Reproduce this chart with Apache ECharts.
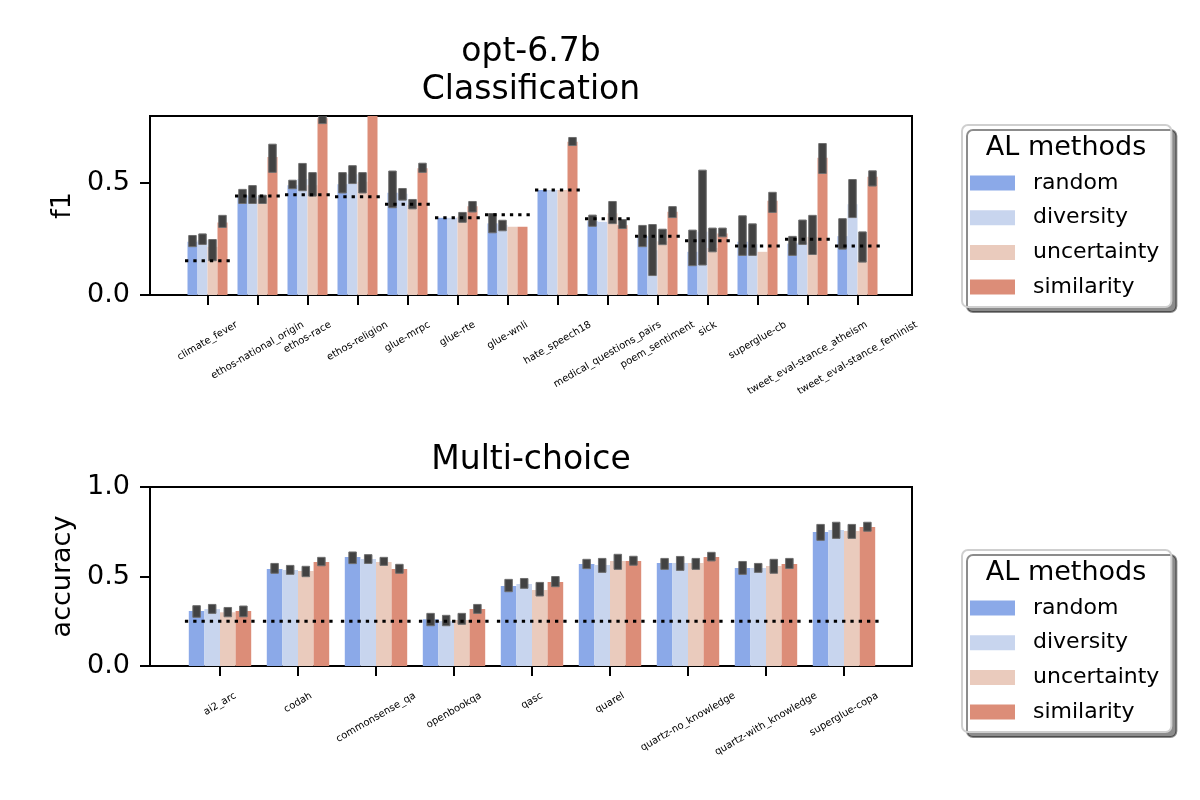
<!DOCTYPE html>
<html><head><meta charset="utf-8">
<script src="https://cdn.jsdelivr.net/npm/echarts@6/dist/echarts.min.js"></script>
<style>html,body{margin:0;padding:0;background:#fff}#main{width:1200px;height:800px}</style>
</head><body><div id="main"></div>
<script>
// ---------------- data ----------------
const methods = ['random', 'diversity', 'uncertainty', 'similarity'];

const clsCats = ['climate_fever','ethos-national_origin','ethos-race','ethos-religion','glue-mrpc','glue-rte','glue-wnli','hate_speech18','medical_questions_pairs','poem_sentiment','sick','superglue-cb','tweet_eval-stance_atheism','tweet_eval-stance_feminist'];
const clsRandom      = [0.238, 0.446, 0.491, 0.495, 0.457, 0.345, 0.320, 0.469, 0.330, 0.263, 0.193, 0.238, 0.230, 0.263];
const clsRandomLo    = [0.216, 0.409, 0.475, 0.456, 0.390, null,  0.278, null,  0.307, 0.216, 0.131, 0.177, 0.177, 0.205];
const clsRandomHi    = [0.266, 0.472, 0.513, 0.547, 0.554, null,  0.364, null,  0.357, 0.311, 0.290, 0.354, 0.262, 0.341];
const clsDiversity   = [0.245, 0.440, 0.518, 0.540, 0.453, 0.345, 0.312, 0.469, 0.327, 0.200, 0.283, 0.227, 0.235, 0.406];
const clsDiversityLo = [0.226, 0.409, 0.466, 0.498, 0.424, null,  0.287, null,  null,  0.087, 0.134, 0.177, 0.226, 0.346];
const clsDiversityHi = [0.273, 0.489, 0.588, 0.578, 0.476, null,  0.334, null,  null,  0.315, 0.558, 0.318, 0.335, 0.516];
const clsUncert      = [0.215, 0.430, 0.490, 0.506, 0.402, 0.350, 0.305, 0.469, 0.365, 0.240, 0.210, 0.193, 0.260, 0.150];
const clsUncertLo    = [0.153, 0.409, 0.442, 0.456, 0.385, 0.325, null,  null,  0.319, 0.225, 0.193, null,  0.181, 0.147];
const clsUncertHi    = [0.248, 0.446, 0.547, 0.547, 0.427, 0.369, null,  null,  0.418, 0.294, 0.299, null,  0.356, 0.282];
const clsSimilar     = [0.324, 0.617, 0.790, 0.850, 0.567, 0.397, 0.305, 0.685, 0.312, 0.372, 0.275, 0.421, 0.613, 0.528];
const clsSimilarLo   = [0.302, 0.548, 0.766, 0.820, 0.548, 0.371, null,  0.668, 0.297, 0.346, 0.260, 0.369, 0.543, 0.487];
const clsSimilarHi   = [0.356, 0.674, 0.820, 0.880, 0.589, 0.418, null,  0.704, 0.337, 0.395, 0.299, 0.459, 0.677, 0.555];
const clsBaseline    = [0.153, 0.443, 0.448, 0.439, 0.406, 0.345, 0.359, 0.469, 0.341, 0.263, 0.243, 0.219, 0.249, 0.219];

const mcCats = ['ai2_arc','codah','commonsense_qa','openbookqa','qasc','quarel','quartz-no_knowledge','quartz-with_knowledge','superglue-copa'];
const mcRandom      = [0.307, 0.542, 0.609, 0.261, 0.447, 0.570, 0.575, 0.547, 0.749];
const mcRandomLo    = [0.272, 0.518, 0.572, 0.225, 0.415, 0.544, 0.540, 0.512, 0.702];
const mcRandomHi    = [0.337, 0.573, 0.637, 0.294, 0.484, 0.596, 0.601, 0.584, 0.791];
const mcDiversity   = [0.318, 0.536, 0.598, 0.251, 0.458, 0.564, 0.575, 0.547, 0.760];
const mcDiversityLo = [0.294, 0.512, 0.573, 0.225, 0.434, 0.523, 0.534, 0.523, 0.713];
const mcDiversityHi = [0.344, 0.562, 0.622, 0.283, 0.489, 0.601, 0.612, 0.573, 0.803];
const mcUncert      = [0.300, 0.531, 0.581, 0.257, 0.425, 0.587, 0.575, 0.559, 0.754];
const mcUncertLo    = [0.275, 0.499, 0.562, 0.233, 0.391, 0.540, 0.540, 0.518, 0.713];
const mcUncertHi    = [0.327, 0.557, 0.607, 0.294, 0.467, 0.624, 0.601, 0.596, 0.791];
const mcSimilar     = [0.307, 0.581, 0.542, 0.318, 0.469, 0.587, 0.609, 0.570, 0.777];
const mcSimilarLo   = [0.275, 0.560, 0.518, 0.294, 0.443, 0.563, 0.587, 0.545, 0.753];
const mcSimilarHi   = [0.335, 0.607, 0.568, 0.344, 0.500, 0.613, 0.635, 0.601, 0.803];
const mcBaseline    = [0.25, 0.25, 0.25, 0.25, 0.25, 0.25, 0.25, 0.25, 0.25];

const yTicksTop = [0, 0.5];
const yTicksBottom = [0, 0.5, 1.0];

// ---------------- styling ----------------
const FONT = 'DejaVu Sans';
const colors = ['#8ba9e8', '#c8d5ee', '#eacbbd', '#dc8d78'];
const LABEL_FS = 10, ROT = 30;
const LABEL_FONT = LABEL_FS + 'px "' + FONT + '"';
const mctx = document.createElement('canvas').getContext('2d');
mctx.font = LABEL_FONT;

function barSeries(vals, k, xi, yi) {
  return {
    type: 'bar', name: methods[k], xAxisIndex: xi, yAxisIndex: yi, data: vals,
    itemStyle: { color: colors[k] }, barGap: '0%', barCategoryGap: '20%',
    clip: true, silent: true, z: 2
  };
}

function errSeries(lo, hi, k, xi, yi) {
  const data = [];
  lo.forEach((l, i) => { if (l != null && hi[i] != null) data.push([i, l, hi[i]]); });
  return {
    type: 'custom', name: methods[k] + ' ci', xAxisIndex: xi, yAxisIndex: yi, data,
    encode: { x: 0, y: [1, 2] }, clip: true, silent: true, z: 4,
    renderItem(params, api) {
      const band = api.size([1, 0])[0];
      const bw = band * 0.2;
      const off = (k - 1.5) * bw;
      const p1 = api.coord([api.value(0), api.value(1)]);
      const p2 = api.coord([api.value(0), api.value(2)]);
      const ew = 7.5;
      return {
        type: 'rect',
        shape: { x: p1[0] + off - ew / 2, y: p2[1], width: ew, height: p1[1] - p2[1] },
        style: { fill: '#424242', stroke: '#6e6e6e', lineWidth: 1 }
      };
    }
  };
}

function baseSeries(vals, xi, yi) {
  return {
    type: 'custom', name: 'baseline', xAxisIndex: xi, yAxisIndex: yi,
    data: vals.map((v, i) => [i, v]), encode: { x: 0, y: 1 }, silent: true, z: 6, clip: false,
    renderItem(params, api) {
      const band = api.size([1, 0])[0];
      const p = api.coord([api.value(0), api.value(1)]);
      return {
        type: 'line',
        shape: { x1: p[0] - 0.45 * band, y1: p[1], x2: p[0] + 0.45 * band, y2: p[1] },
        style: { stroke: '#000', lineWidth: 3, lineDash: [3.3, 5] }
      };
    }
  };
}

// rotated category labels, centred on each tick, tops of rotated boxes aligned (matplotlib style)
function labelSeries(cats, xi, yi) {
  const rad = ROT * Math.PI / 180;
  return {
    type: 'custom', name: 'labels', xAxisIndex: xi, yAxisIndex: yi,
    data: cats.map((c, i) => [i, 0]), encode: { x: 0, y: 1 }, silent: true, clip: false, z: 8,
    renderItem(params, api) {
      const name = cats[params.dataIndex];
      const w = mctx.measureText(name).width;
      const p = api.coord([api.value(0), 0]);
      return {
        type: 'text', x: p[0], y: p[1] + 29 + w * Math.sin(rad) / 2, rotation: rad,
        style: { text: name, font: LABEL_FONT, fill: '#000', align: 'center', verticalAlign: 'middle',
                 textAlign: 'center', textVerticalAlign: 'middle' }
      };
    }
  };
}

function frameY(gi, max, ticks, name) {
  return {
    gridIndex: gi, type: 'value', min: 0, max: max,
    axisLine: { show: false }, splitLine: { show: false },
    axisTick: { show: true, customValues: ticks, length: 10, lineStyle: { color: '#000', width: 2 } },
    axisLabel: { customValues: ticks, formatter: v => v.toFixed(1), fontSize: 27, fontFamily: FONT, color: '#000', margin: 20 },
    name: name, nameLocation: 'middle', nameGap: 70,
    nameTextStyle: { fontSize: 27, fontFamily: FONT, color: '#000' }
  };
}

function catX(gi, cats) {
  return {
    gridIndex: gi, type: 'category', data: cats,
    axisLine: { show: false },
    axisTick: { show: true, alignWithLabel: true, length: 10, lineStyle: { color: '#000', width: 2 } },
    axisLabel: { show: false, interval: 0 }
  };
}

function legendCfg(top) {
  return {
    left: 962, top: top, orient: 'vertical', data: methods, icon: 'rect',
    itemWidth: 45, itemHeight: 15, itemGap: 10.7,
    padding: [46, 12, 8, 8], backgroundColor: '#fff', borderColor: '#cfcfcf', borderWidth: 2, borderRadius: 6,
    shadowColor: 'rgba(0,0,0,0.45)', shadowOffsetX: 5, shadowOffsetY: 5, shadowBlur: 0,
    selectedMode: false,
    textStyle: { fontSize: 22, fontFamily: FONT, color: '#000', lineHeight: 24, padding: [0, 0, 0, 13] }
  };
}

const titleStyle = (fs, lh) => ({ fontSize: fs, fontWeight: 'normal', fontFamily: FONT, color: '#000', lineHeight: lh });

const option = {
  animation: false,
  backgroundColor: '#fff',
  title: [
    { text: 'opt-6.7b\nClassification', left: 531, top: 33, textAlign: 'center', padding: 0, textStyle: titleStyle(33, 38) },
    { text: 'Multi-choice', left: 531, top: 441, textAlign: 'center', padding: 0, textStyle: titleStyle(33, 38) },
    { text: 'AL methods', left: 1066, top: 132, textAlign: 'center', padding: 0, z: 10, textStyle: titleStyle(27, 32) },
    { text: 'AL methods', left: 1066, top: 557, textAlign: 'center', padding: 0, z: 10, textStyle: titleStyle(27, 32) }
  ],
  legend: [legendCfg(125), legendCfg(550)],
  grid: [
    { left: 150, top: 116, width: 762, height: 179, show: true, borderColor: '#000', borderWidth: 2, backgroundColor: 'transparent' },
    { left: 182.5, top: 116, width: 700, height: 179 },
    { left: 150, top: 487, width: 762, height: 179, show: true, borderColor: '#000', borderWidth: 2, backgroundColor: 'transparent' },
    { left: 181, top: 487, width: 702, height: 179 }
  ],
  xAxis: [
    { gridIndex: 0, type: 'value', show: false, min: 0, max: 1 },
    catX(1, clsCats),
    { gridIndex: 2, type: 'value', show: false, min: 0, max: 1 },
    catX(3, mcCats)
  ],
  yAxis: [
    frameY(0, 0.8, yTicksTop, 'f1'),
    { gridIndex: 1, type: 'value', min: 0, max: 0.8, show: false },
    frameY(2, 1.0, yTicksBottom, 'accuracy'),
    { gridIndex: 3, type: 'value', min: 0, max: 1.0, show: false }
  ],
  series: [
    barSeries(clsRandom, 0, 1, 1), barSeries(clsDiversity, 1, 1, 1), barSeries(clsUncert, 2, 1, 1), barSeries(clsSimilar, 3, 1, 1),
    errSeries(clsRandomLo, clsRandomHi, 0, 1, 1), errSeries(clsDiversityLo, clsDiversityHi, 1, 1, 1),
    errSeries(clsUncertLo, clsUncertHi, 2, 1, 1), errSeries(clsSimilarLo, clsSimilarHi, 3, 1, 1),
    baseSeries(clsBaseline, 1, 1),
    labelSeries(clsCats, 1, 1),
    barSeries(mcRandom, 0, 3, 3), barSeries(mcDiversity, 1, 3, 3), barSeries(mcUncert, 2, 3, 3), barSeries(mcSimilar, 3, 3, 3),
    errSeries(mcRandomLo, mcRandomHi, 0, 3, 3), errSeries(mcDiversityLo, mcDiversityHi, 1, 3, 3),
    errSeries(mcUncertLo, mcUncertHi, 2, 3, 3), errSeries(mcSimilarLo, mcSimilarHi, 3, 3, 3),
    baseSeries(mcBaseline, 3, 3),
    labelSeries(mcCats, 3, 3)
  ]
};

const chart = echarts.init(document.getElementById('main'), null, { renderer: 'canvas' });
chart.setOption(option);
</script>
</body></html>
